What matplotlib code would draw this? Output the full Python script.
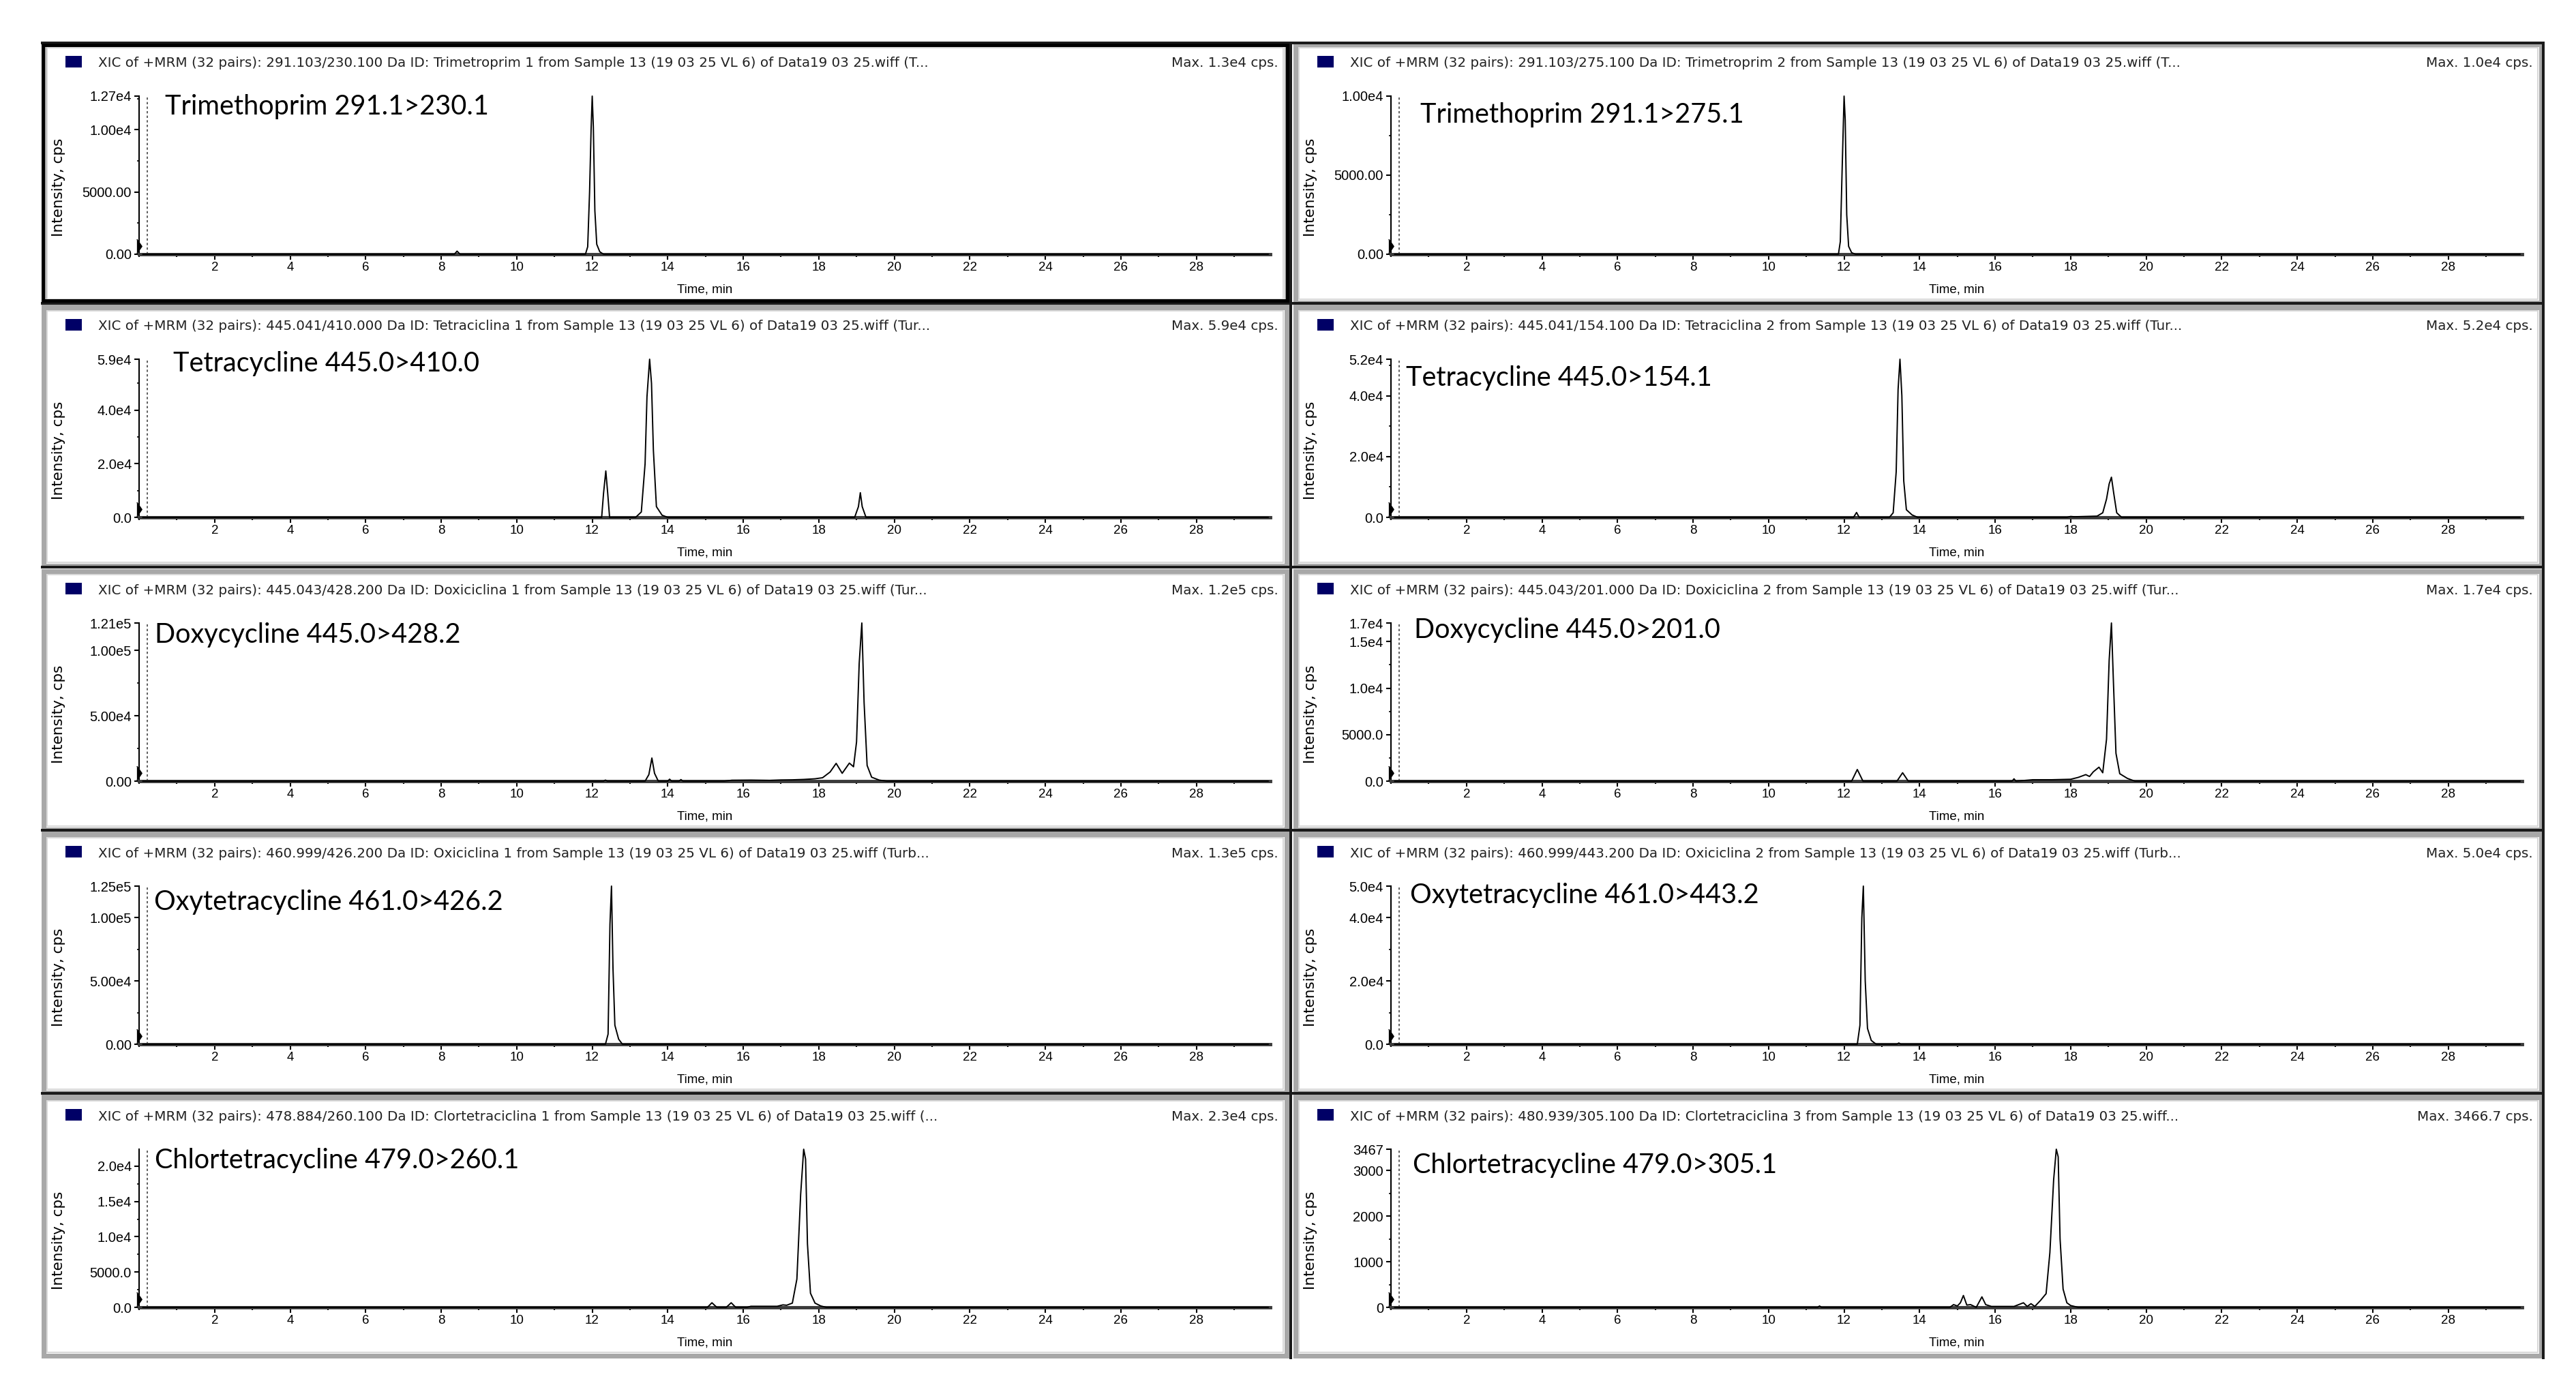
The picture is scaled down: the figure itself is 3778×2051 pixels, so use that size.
import matplotlib.pyplot as plt
from matplotlib.patches import Rectangle
from matplotlib.lines import Line2D
from matplotlib.ticker import FixedLocator, MultipleLocator

plt.rcParams['font.family'] = ['Liberation Sans', 'DejaVu Sans']

W, H = 3778, 2051

# panel order: row by row, left then right
titles = ["Trimethoprim 291.1>230.1", "Trimethoprim 291.1>275.1",
          "Tetracycline 445.0>410.0", "Tetracycline 445.0>154.1",
          "Doxycycline 445.0>428.2", "Doxycycline 445.0>201.0",
          "Oxytetracycline 461.0>426.2", "Oxytetracycline 461.0>443.2",
          "Chlortetracycline 479.0>260.1", "Chlortetracycline 479.0>305.1"]

headers = [
    "XIC of +MRM (32 pairs): 291.103/230.100 Da ID: Trimetroprim 1 from Sample 13 (19 03 25 VL 6) of Data19 03 25.wiff (T...",
    "XIC of +MRM (32 pairs): 291.103/275.100 Da ID: Trimetroprim 2 from Sample 13 (19 03 25 VL 6) of Data19 03 25.wiff (T...",
    "XIC of +MRM (32 pairs): 445.041/410.000 Da ID: Tetraciclina 1 from Sample 13 (19 03 25 VL 6) of Data19 03 25.wiff (Tur...",
    "XIC of +MRM (32 pairs): 445.041/154.100 Da ID: Tetraciclina 2 from Sample 13 (19 03 25 VL 6) of Data19 03 25.wiff (Tur...",
    "XIC of +MRM (32 pairs): 445.043/428.200 Da ID: Doxiciclina 1 from Sample 13 (19 03 25 VL 6) of Data19 03 25.wiff (Tur...",
    "XIC of +MRM (32 pairs): 445.043/201.000 Da ID: Doxiciclina 2 from Sample 13 (19 03 25 VL 6) of Data19 03 25.wiff (Tur...",
    "XIC of +MRM (32 pairs): 460.999/426.200 Da ID: Oxiciclina 1 from Sample 13 (19 03 25 VL 6) of Data19 03 25.wiff (Turb...",
    "XIC of +MRM (32 pairs): 460.999/443.200 Da ID: Oxiciclina 2 from Sample 13 (19 03 25 VL 6) of Data19 03 25.wiff (Turb...",
    "XIC of +MRM (32 pairs): 478.884/260.100 Da ID: Clortetraciclina 1 from Sample 13 (19 03 25 VL 6) of Data19 03 25.wiff (...",
    "XIC of +MRM (32 pairs): 480.939/305.100 Da ID: Clortetraciclina 3 from Sample 13 (19 03 25 VL 6) of Data19 03 25.wiff...",
]

max_labels = ["Max. 1.3e4 cps.", "Max. 1.0e4 cps.", "Max. 5.9e4 cps.", "Max. 5.2e4 cps.",
              "Max. 1.2e5 cps.", "Max. 1.7e4 cps.", "Max. 1.3e5 cps.", "Max. 5.0e4 cps.",
              "Max. 2.3e4 cps.", "Max. 3466.7 cps."]

ymax = [1.27e4, 1.00e4, 5.9e4, 5.2e4, 1.21e5, 1.7e4, 1.25e5, 5.0e4, 2.24e4, 3467]

ytick_vals = [[0, 5000, 1e4, 1.27e4], [0, 5000, 1e4],
              [0, 2e4, 4e4, 5.9e4], [0, 2e4, 4e4, 5.2e4],
              [0, 5e4, 1e5, 1.21e5], [0, 5000, 1e4, 1.5e4, 1.7e4],
              [0, 5e4, 1e5, 1.25e5], [0, 2e4, 4e4, 5e4],
              [0, 5000, 1e4, 1.5e4, 2e4], [0, 1000, 2000, 3000, 3467]]
ytick_labels = [["0.00", "5000.00", "1.00e4", "1.27e4"], ["0.00", "5000.00", "1.00e4"],
                ["0.0", "2.0e4", "4.0e4", "5.9e4"], ["0.0", "2.0e4", "4.0e4", "5.2e4"],
                ["0.00", "5.00e4", "1.00e5", "1.21e5"], ["0.0", "5000.0", "1.0e4", "1.5e4", "1.7e4"],
                ["0.00", "5.00e4", "1.00e5", "1.25e5"], ["0.0", "2.0e4", "4.0e4", "5.0e4"],
                ["0.0", "5000.0", "1.0e4", "1.5e4", "2.0e4"], ["0", "1000", "2000", "3000", "3467"]]

# traces (time in min, intensity in cps)
times = [
    [0.1, 8.35, 8.42, 8.5, 11.82, 11.88, 11.93, 11.97, 12.0, 12.03, 12.07, 12.12, 12.2, 12.3, 29.9],
    [0.1, 11.85, 11.9, 11.95, 12.0, 12.03, 12.07, 12.12, 12.2, 12.3, 29.9],
    [0.1, 12.25, 12.3, 12.36, 12.41, 12.46, 13.15, 13.3, 13.4, 13.45, 13.52, 13.57, 13.62, 13.7, 13.85,
     14.0, 18.95, 19.05, 19.1, 19.15, 19.25, 29.9],
    [0.1, 12.25, 12.33, 12.4, 13.2, 13.3, 13.38, 13.43, 13.48, 13.53, 13.58, 13.65, 13.8, 13.95, 17.9,
     18.0, 18.1, 18.4, 18.7, 18.85, 18.95, 19.02, 19.08, 19.14, 19.22, 19.35, 29.9],
    [0.1, 12.3, 12.35, 12.4, 13.4, 13.5, 13.58, 13.65, 13.75, 14.0, 14.05, 14.1, 14.3, 14.35, 14.4,
     15.5, 15.7, 16.2, 16.7, 17.0, 17.3, 17.6, 17.9, 18.1, 18.3, 18.46, 18.62, 18.81, 18.92, 19.0,
     19.07, 19.14, 19.2, 19.28, 19.4, 19.6, 19.8, 29.9],
    [0.1, 12.2, 12.35, 12.5, 13.4, 13.55, 13.7, 16.45, 16.5, 16.55, 17.0, 17.5, 18.0, 18.2, 18.4,
     18.5, 18.6, 18.75, 18.85, 18.95, 19.02, 19.08, 19.13, 19.2, 19.3, 19.5, 19.7, 29.9],
    [0.1, 12.35, 12.42, 12.47, 12.51, 12.55, 12.6, 12.7, 12.8, 29.9],
    [0.1, 12.35, 12.42, 12.47, 12.51, 12.56, 12.62, 12.72, 12.85, 13.4, 13.45, 13.5, 29.9],
    [0.1, 15.05, 15.17, 15.3, 15.55, 15.68, 15.8, 16.1, 16.2, 16.9, 17.05, 17.15, 17.3, 17.42, 17.52,
     17.6, 17.65, 17.7, 17.78, 17.9, 18.05, 18.2, 29.9],
    [0.1, 11.3, 11.35, 11.4, 14.8, 14.9, 15.0, 15.08, 15.16, 15.25, 15.35, 15.5, 15.65, 15.75, 15.9,
     16.5, 16.75, 16.85, 16.95, 17.05, 17.2, 17.35, 17.45, 17.55, 17.62, 17.67, 17.72, 17.8, 17.9,
     18.0, 18.2, 29.9],
]
intens = [
    [0, 0, 250, 0, 0, 600, 5000, 10000, 12700, 10200, 3500, 800, 200, 0, 0],
    [0, 0, 800, 5500, 10000, 8500, 2500, 500, 100, 0, 0],
    [0, 0, 9000, 17300, 9000, 0, 0, 2000, 20000, 45000, 59000, 50000, 25000, 4000, 800,
     0, 0, 4000, 9200, 4000, 0, 0],
    [0, 0, 1600, 0, 0, 1500, 15000, 42000, 52000, 40000, 12000, 2500, 800, 0, 0,
     300, 200, 300, 400, 1500, 6000, 11000, 13200, 8000, 1500, 0, 0],
    [0, 0, 800, 0, 0, 5000, 17700, 6000, 0, 0, 1500, 0, 0, 1200, 0,
     0, 700, 800, 600, 900, 1000, 1300, 1800, 2600, 7000, 13600, 6000, 13800, 11000, 30000,
     90000, 121000, 60000, 12000, 3000, 800, 0, 0],
    [0, 0, 1250, 0, 0, 900, 0, 0, 250, 0, 150, 150, 200, 400, 700,
     500, 1000, 1500, 900, 4500, 13000, 17000, 11000, 3000, 800, 300, 0, 0],
    [0, 0, 8000, 95000, 125000, 60000, 15000, 4000, 0, 0],
    [0, 0, 6000, 40000, 50000, 20000, 5000, 1200, 0, 0, 400, 0, 0],
    [0, 0, 650, 0, 0, 650, 0, 0, 150, 150, 350, 300, 600, 4000, 16000,
     22400, 21000, 9000, 2000, 600, 200, 0, 0],
    [0, 0, 30, 0, 0, 60, 30, 100, 260, 50, 60, 0, 230, 60, 20,
     20, 100, 20, 80, 20, 150, 300, 1200, 2800, 3467, 3300, 1500, 400, 100,
     40, 0, 0],
]

# layout, in pixels of the final image
col_x0 = [64, 1900]
col_x1 = [1887, 3727]
row_y0 = [65, 451, 838, 1224, 1610]
panel_h = 379
px_per_min = 55.38
t_end = 29.95
label_off = [(178, 73), (183, 85), (190, 64), (162, 85), (163, 75),
             (174, 68), (162, 81), (168, 71), (163, 74), (172, 81)]
PT = 0.72  # points per pixel at dpi 100


def fx(px):
    return px / W


def fy(py):
    return 1 - py / H


fig = plt.figure(figsize=(W / 100, H / 100), dpi=100, facecolor='white')

for i in range(10):
    r, c = divmod(i, 2)
    x0, x1 = col_x0[c], col_x1[c]
    y0 = row_y0[r]
    y1 = y0 + panel_h

    # window frame
    fig.add_artist(Rectangle((fx(x0), fy(y1)), (x1 - x0) / W, panel_h / H,
                             transform=fig.transFigure, facecolor='white',
                             edgecolor='#a8a8a8', lw=7 * PT, zorder=0))
    fig.add_artist(Rectangle((fx(x0 + 5), fy(y1 - 5)), (x1 - x0 - 10) / W, (panel_h - 10) / H,
                             transform=fig.transFigure, facecolor='none',
                             edgecolor='#d8d8d8', lw=2 * PT, zorder=0))
    if i == 0:
        fig.add_artist(Rectangle((fx(x0 - 1), fy(y1 - 3)), (x1 - x0 + 2) / W, (panel_h - 4) / H,
                                 transform=fig.transFigure, facecolor='none',
                                 edgecolor='black', lw=5 * PT, zorder=3))

    # header line
    fig.add_artist(Rectangle((fx(x0 + 32), fy(y0 + 34)), 24 / W, 17 / H,
                             transform=fig.transFigure, facecolor='#000066',
                             edgecolor='none'))
    fig.text(fx(x0 + 80), fy(y0 + 28), headers[i], fontsize=14.3, family='DejaVu Sans',
             va='center', ha='left', color='#222222')
    fig.text(fx(x1 - 12), fy(y0 + 28), max_labels[i], fontsize=14.3, family='DejaVu Sans',
             va='center', ha='right', color='#222222')

    # plot area
    ax_x0 = x0 + 140
    ax_top = y0 + 76
    ax_bot = y0 + 308
    ax = fig.add_axes([fx(ax_x0), fy(ax_bot), t_end * px_per_min / W, (ax_bot - ax_top) / H])
    ax.set_facecolor('none')
    ax.plot(times[i], intens[i], color='black', lw=1.4, clip_on=False, zorder=4)
    ax.axvline(0.22, color='#444444', lw=1.2, ls=(0, (2, 2)))
    ax.plot([0], [ymax[i] * 0.05], marker=[(-0.35, -1), (0.35, 0), (-0.35, 1)],
            ms=15, color='black', clip_on=False, zorder=5)

    ax.set_xlim(0, t_end)
    ax.set_ylim(0, ymax[i])
    for s in ('top', 'right'):
        ax.spines[s].set_visible(False)
    ax.spines['left'].set_linewidth(1.5)
    ax.spines['bottom'].set_linewidth(3.5)
    ax.spines['bottom'].set_color('#3a3a3a')

    ax.xaxis.set_major_locator(FixedLocator(range(2, 29, 2)))
    ax.xaxis.set_minor_locator(MultipleLocator(1))
    ax.tick_params(axis='x', which='major', length=6, width=1.5, pad=2, labelsize=13.5)
    ax.tick_params(axis='x', which='minor', length=3, width=1.5)
    ax.yaxis.set_major_locator(FixedLocator(ytick_vals[i]))
    ax.set_yticklabels(ytick_labels[i])
    step = ytick_vals[i][1] / 2
    ax.yaxis.set_minor_locator(MultipleLocator(step))
    ax.tick_params(axis='y', which='major', length=5, width=1.5, pad=3, labelsize=14.5)
    ax.tick_params(axis='y', which='minor', length=2, width=1.2)

    ax.set_xlabel("Time, min", fontsize=13.5, labelpad=11)
    fig.text(fx(x0 + 22), fy((ax_top + ax_bot) / 2 + 18), "Intensity, cps", rotation=90,
             family='DejaVu Sans', fontsize=15.5, ha='center', va='center')

    # compound label pasted on the chromatogram
    ox, oy = label_off[i]
    fig.text(fx(x0 + ox), fy(y0 + oy), titles[i], fontsize=28.5, family=['Lato', 'DejaVu Sans'],
             ha='left', va='top', color='black')

# dark window separators
sep = dict(color='#1a1a1a', lw=4 * PT, transform=fig.transFigure)
fig.add_artist(Line2D([fx(62), fx(3730)], [fy(63), fy(63)], **sep))
for r in range(1, 5):
    yy = row_y0[r] - 6
    fig.add_artist(Line2D([fx(62), fx(3730)], [fy(yy), fy(yy)], **sep))
fig.add_artist(Line2D([fx(1893), fx(1893)], [fy(63), fy(1992)], **sep))
fig.add_artist(Line2D([fx(3730), fx(3730)], [fy(63), fy(1992)], **sep))

fig.savefig('out.png', dpi=100, facecolor='white')
